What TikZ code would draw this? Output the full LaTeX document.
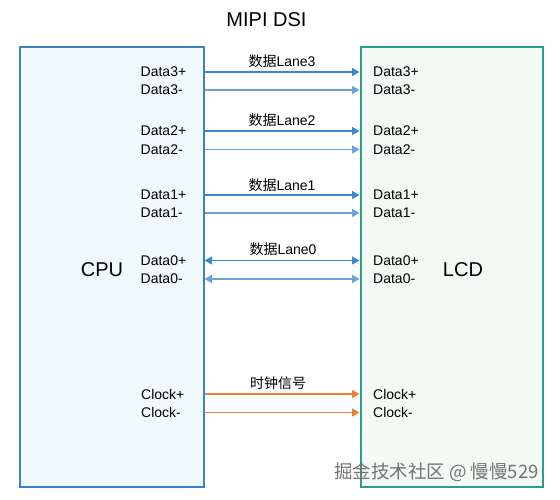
\documentclass[tikz,border=0pt]{standalone}
\usepackage{fontspec}
\setmainfont{Liberation Sans}
\newfontfamily\cjk{Noto Sans CJK SC}
\usetikzlibrary{arrows.meta}
\definecolor{cpuline}{HTML}{3A80C4}
\definecolor{cpufill}{HTML}{F0F9FE}
\definecolor{lcdline}{HTML}{2A9D8F}
\definecolor{lcdfill}{HTML}{F3FAF5}
\definecolor{pline}{HTML}{3C87D0}
\definecolor{mline}{HTML}{6AA3DA}
\definecolor{clkline}{HTML}{EE7E36}
\tikzset{
  chip/.style={line width=2pt,minimum width=#1,minimum height=440pt,inner sep=0pt},
  pin/.style={anchor=west,inner sep=0pt},
  wire/.style={line width=1.4pt}
}

\begin{document}
\begin{tikzpicture}[x=1pt,y=-1pt,>={Triangle[length=7.5pt,width=8pt]},
  font=\fontsize{14}{16}\selectfont]
\useasboundingbox (0,0) rectangle (560,499);
\node[chip=184pt,draw=cpuline,fill=cpufill] (cpu) at (111.5,266.5) {};
\node[chip=182pt,draw=lcdline,fill=lcdfill] (lcd) at (451.5,266.5) {};
\node[font=\fontsize{20}{24}\selectfont] (title) at (266.5,19.5) {MIPI DSI};
\node[font=\fontsize{20}{24}\selectfont] (cputxt) at (102,270) {CPU};
\node[font=\fontsize{20}{24}\selectfont] (lcdtxt) at (463,270) {LCD};
% CPU pins
\node[pin] (c3p) at (140.5,72) {Data3+};
\node[pin] (c3m) at (140.5,90) {Data3-};
\node[pin] (c2p) at (140.5,131) {Data2+};
\node[pin] (c2m) at (140.5,149.5) {Data2-};
\node[pin] (c1p) at (140.5,195) {Data1+};
\node[pin] (c1m) at (140.5,213) {Data1-};
\node[pin] (c0p) at (140.5,260.5) {Data0+};
\node[pin] (c0m) at (140.5,279) {Data0-};
\node[pin] (ckp) at (141,394) {Clock+};
\node[pin] (ckm) at (141,412.5) {Clock-};
% LCD pins
\node[pin] (l3p) at (373,72) {Data3+};
\node[pin] (l3m) at (373,90) {Data3-};
\node[pin] (l2p) at (373,131) {Data2+};
\node[pin] (l2m) at (373,149.5) {Data2-};
\node[pin] (l1p) at (373,195) {Data1+};
\node[pin] (l1m) at (373,213) {Data1-};
\node[pin] (l0p) at (373,260.5) {Data0+};
\node[pin] (l0m) at (373,279) {Data0-};
\node[pin] (lkp) at (373,394) {Clock+};
\node[pin] (lkm) at (373,412.5) {Clock-};
% lanes
\draw[wire,->,pline] (cpu.east |- c3p) -- (lcd.west |- l3p);
\draw[wire,->,mline] (cpu.east |- c3m) -- (lcd.west |- l3m);
\draw[wire,->,pline] (cpu.east |- c2p) -- (lcd.west |- l2p);
\draw[wire,->,mline] (cpu.east |- c2m) -- (lcd.west |- l2m);
\draw[wire,->,pline] (cpu.east |- c1p) -- (lcd.west |- l1p);
\draw[wire,->,mline] (cpu.east |- c1m) -- (lcd.west |- l1m);
\draw[wire,<->,pline] (cpu.east |- c0p) -- (lcd.west |- l0p);
\draw[wire,<->,mline] (cpu.east |- c0m) -- (lcd.west |- l0m);
\draw[wire,->,clkline] (cpu.east |- ckp) -- (lcd.west |- lkp);
\draw[wire,->,clkline] (cpu.east |- ckm) -- (lcd.west |- lkm);
\node (lane3) at (282,61.5) {{\cjk 数据}Lane3};
\node (lane2) at (282,120.5) {{\cjk 数据}Lane2};
\node (lane1) at (282,185) {{\cjk 数据}Lane1};
\node (lane0) at (283,249.5) {{\cjk 数据}Lane0};
\node (clk) at (278,383) {\cjk 时钟信号};
\node[text=black!55,font=\cjk\fontsize{18.5}{22}\selectfont] (mark) at (436.5,472) {掘金技术社区 @ 慢慢529};
\end{tikzpicture}
\end{document}
